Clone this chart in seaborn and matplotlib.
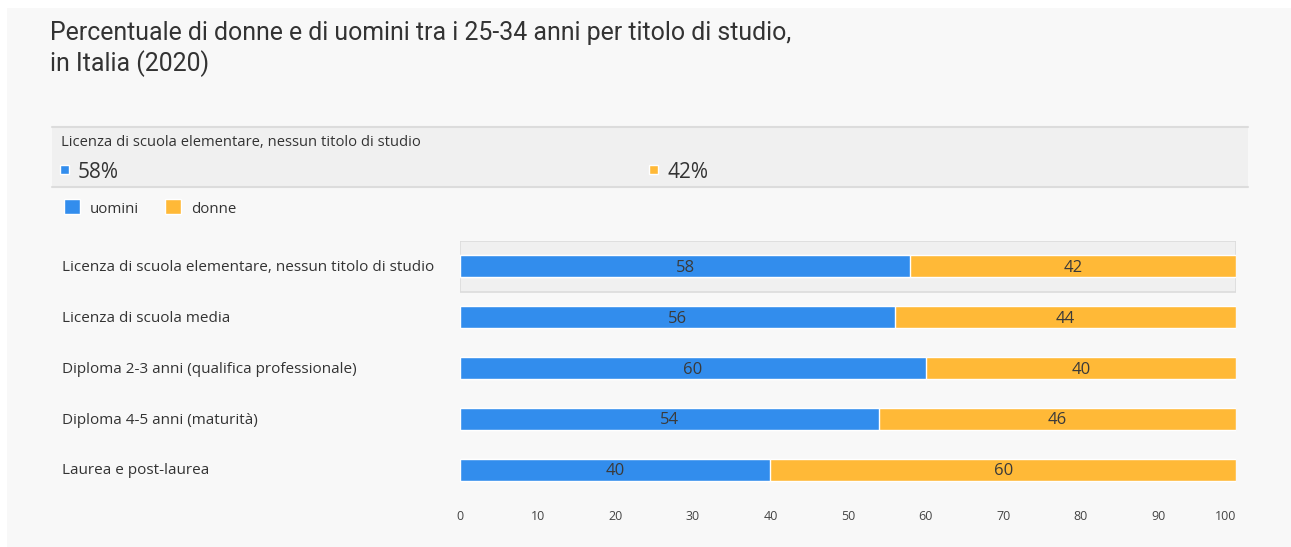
import matplotlib
matplotlib.use("Agg")
import matplotlib.pyplot as plt
import matplotlib.patches as mpatches
import numpy as np
import pandas as pd
import seaborn as sns

# Data
categorie = ["Licenza di scuola elementare, nessun titolo di studio",
             "Licenza di scuola media",
             "Diploma 2-3 anni (qualifica professionale)",
             "Diploma 4-5 anni (maturità)",
             "Laurea e post-laurea"]
uomini = [58, 56, 60, 54, 40]
donne = [42, 44, 40, 46, 60]
x_ticks = [0, 10, 20, 30, 40, 50, 60, 70, 80, 90, 100]
titolo = ["Percentuale di donne e di uomini tra i 25-34 anni per titolo di studio,",
          "in Italia (2020)"]

BLUE = "#328ded"
ORANGE = "#ffb937"
BG = "#f8f8f8"
TXT = "#333333"

df = pd.DataFrame({"categoria": categorie, "uomini": uomini, "donne": donne})
df["totale"] = df["uomini"] + df["donne"]

sns.set_theme(style="white")
plt.rcParams["font.family"] = ["Open Sans", "DejaVu Sans"]

fig = plt.figure(figsize=(12.91, 5.47), dpi=100)
fig.patch.set_facecolor("white")
W, H = 1291, 547

def fx(px):
    return px / W

def fy(py):
    return 1 - py / H

def rect_px(x0, y0, x1, y1, **kw):
    # rectangle given in pixel coords (top-left origin)
    fig.patches.append(mpatches.Rectangle((fx(x0), fy(y1)), fx(x1 - x0), (y1 - y0) / H,
                                          transform=fig.transFigure, **kw))

# panel background
rect_px(7, 8, 1291, 547, facecolor=BG, edgecolor="none", zorder=-10)

# title
for k, line in enumerate(titolo):
    fig.text(fx(50), fy(33 + 31 * k), line, fontsize=17.9, color=TXT,
             family=["Roboto", "DejaVu Sans"], va="center")

# tooltip band
rect_px(52, 127, 1248, 187, facecolor="#f0f0f0", edgecolor="none", zorder=-5)
for yy in (127, 187):
    fig.add_artist(plt.Line2D([fx(52), fx(1248)], [fy(yy), fy(yy)], color="#dcdcdc",
                              lw=1.5, transform=fig.transFigure))
fig.text(fx(61), fy(143), categorie[0], fontsize=10.6, color=TXT, va="center")
rect_px(60, 165, 69, 174, facecolor=BLUE)
fig.text(fx(78), fy(172), f"{uomini[0]}%", fontsize=15, color=TXT, va="center")
rect_px(649, 165, 658, 174, facecolor=ORANGE)
fig.text(fx(667), fy(172), f"{donne[0]}%", fontsize=15, color=TXT, va="center")

# legend
rect_px(64, 199, 80, 214, facecolor=BLUE)
fig.text(fx(90), fy(209), "uomini", fontsize=10.8, color=TXT, va="center")
rect_px(165, 199, 181, 214, facecolor=ORANGE)
fig.text(fx(191), fy(209), "donne", fontsize=10.8, color=TXT, va="center")

# main axes
ax = fig.add_axes([fx(460), fy(495), fx(1236 - 460), 254 / H])
ax.set_facecolor("none")

ax.axhspan(-0.5, 0.5, xmin=0, xmax=1, facecolor="#f0f0f0", edgecolor="#dcdcdc",
           lw=1.2, zorder=0)

sns.barplot(data=df, y="categoria", x="totale", orient="h", color=ORANGE,
            width=0.43, saturation=1, edgecolor="white", linewidth=1, ax=ax, zorder=2)
sns.barplot(data=df, y="categoria", x="uomini", orient="h", color=BLUE,
            width=0.43, saturation=1, edgecolor="white", linewidth=1, ax=ax, zorder=3)

for i, (u, d) in enumerate(zip(uomini, donne)):
    ax.text(u / 2, i + 0.03, str(u), ha="center", va="center", fontsize=12, color="#3a3a3a", zorder=4)
    ax.text(u + d / 2, i + 0.03, str(d), ha="center", va="center", fontsize=12, color="#3a3a3a", zorder=4)

ax.set_xlim(0, 100)
ax.set_ylim(4.5, -0.5)
ax.set_xticks(x_ticks)
ax.set_xticklabels([str(t) for t in x_ticks], fontsize=9, color="#444444")
ax.get_xticklabels()[-1].set_horizontalalignment("right")
ax.tick_params(axis="x", length=0, pad=11)
ax.set_yticks(range(len(categorie)))
ax.set_yticklabels([])
ax.tick_params(axis="y", length=0)
ax.set_xlabel("")
ax.set_ylabel("")
for s in ax.spines.values():
    s.set_visible(False)

for i, c in enumerate(categorie):
    fig.text(fx(62), fy(268 + i * 50.75), c, fontsize=11, color=TXT, va="center")

fig.savefig("out.png", dpi=100, facecolor=fig.get_facecolor())
